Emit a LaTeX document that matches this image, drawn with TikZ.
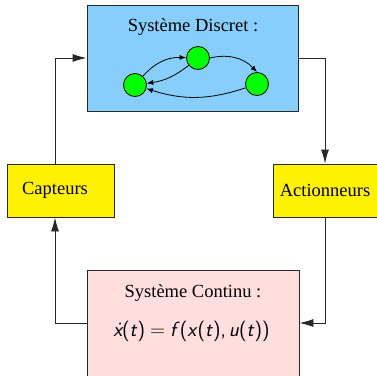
\documentclass[tikz,border=0pt]{standalone}
\usepackage{fontspec}
\setmainfont{Liberation Serif}
\usetikzlibrary{arrows.meta}
\definecolor{bluebg}{RGB}{135,206,250}
\definecolor{pinkbg}{RGB}{255,222,222}
\definecolor{framec}{RGB}{40,40,40}
\newcommand{\vi}[1]{\textit{#1}}
\begin{document}
\begin{tikzpicture}[x=1pt,y=-1pt,
  box/.style={draw=framec, line width=0.9pt},
  lbl/.style={font=\fontsize{18.5}{22}\selectfont, inner sep=0pt},
  eqlbl/.style={font=\fontsize{20.5}{24}\selectfont\sffamily, inner sep=0pt},
  arr/.style={-{Latex[length=14pt,width=8pt]}, line width=0.9pt, draw=framec},
  state/.style={circle, draw=black, line width=0.8pt, fill=green, minimum size=23pt, inner sep=0pt},
  sarr/.style={-{Latex[length=6.5pt,width=5pt]}, line width=0.8pt}]
\clip (0,0) rectangle (377,375);
% boxes
\node[box, fill=bluebg, minimum width=211pt, minimum height=106pt, inner sep=0pt] (disc) at (192.5,58) {};
\node[box, fill=pinkbg, minimum width=212pt, minimum height=106pt, inner sep=0pt] (cont) at (193,323) {};
\node[box, fill=yellow, minimum width=107pt, minimum height=53pt, inner sep=0pt] (capbox) at (60.5,190.5) {};
\node[box, fill=yellow, minimum width=104pt, minimum height=53pt, inner sep=0pt] (actbox) at (325,190.5) {};
% texts
\node[lbl] (disct) at (193,27) {Système Discret :};
\node[lbl] (contt) at (193,293) {Système Continu :};
\node[eqlbl] (eq) at (191.5,331) {\vi{\.x}(\vi{t})\hspace{5pt}=\hspace{5pt}\vi{f}(\vi{x}(\vi{t}),\hspace{3pt}\vi{u}(\vi{t}))};
\node[lbl] (cap) at (55,190.5) {Capteurs};
\node[lbl] (act) at (325,190.5) {Actionneurs};
% states
\node[state] (L) at (135,85) {};
\node[state] (T) at (198,58) {};
\node[state] (R) at (257,84) {};
\draw[sarr] (L) to[bend left=25] (T);
\draw[sarr] (T) to[bend left=15] (L);
\draw[sarr] (T.east) to[bend left=30] (R.north);
\draw[sarr] (R) to[bend left=18] (L);
% connectors
\draw[arr] (disc.east) -| (act |- actbox.north);
\draw[arr] (act |- actbox.south) |- (cont.east);
\draw[arr] (cont.west) -| (cap |- capbox.south);
\draw[arr] (cap |- capbox.north) |- (disc.west);
\end{tikzpicture}
\end{document}
